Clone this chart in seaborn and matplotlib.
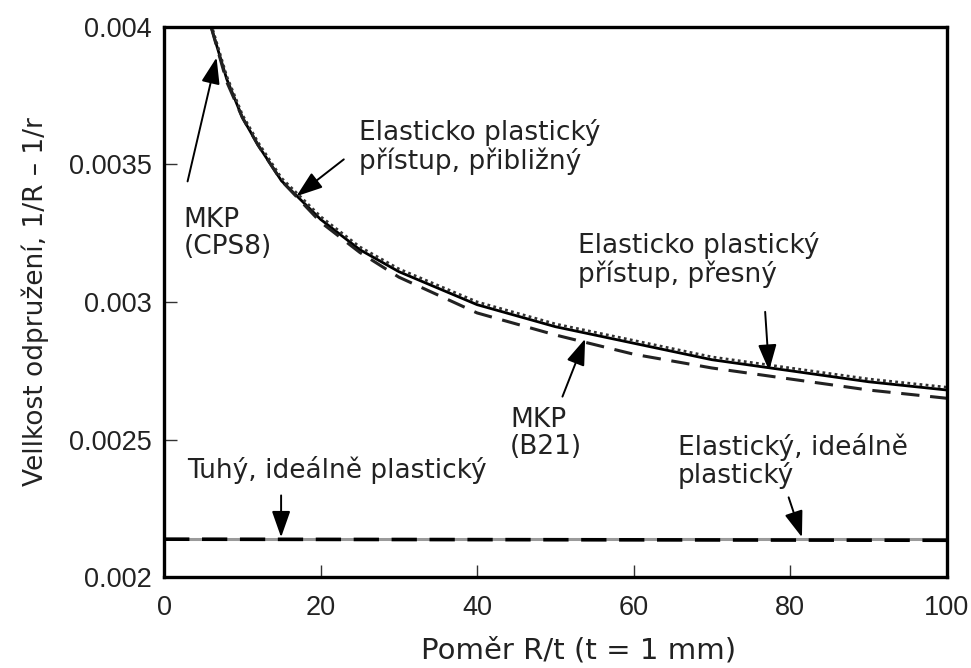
import numpy as np
import pandas as pd
import matplotlib
matplotlib.use("Agg")
import matplotlib.pyplot as plt
import seaborn as sns

# ---- data ----
ratio = [6, 8, 10, 12, 15, 20, 25, 30, 40, 50, 60, 70, 80, 90, 100]
approx_ep = [0.00400, 0.00381, 0.00367, 0.00357, 0.00344, 0.00330, 0.00319, 0.00311,
             0.00299, 0.00291, 0.00285, 0.00279, 0.00275, 0.00271, 0.00268]
fem_cps8 = [0.00401, 0.00382, 0.00368, 0.00358, 0.00345, 0.00331, 0.00320, 0.00312,
            0.00300, 0.00292, 0.00286, 0.00280, 0.00276, 0.00272, 0.00269]
exact_ep = [0.00400, 0.00380, 0.00367, 0.00357, 0.00344, 0.00329, 0.00318, 0.00309,
            0.00296, 0.00288, 0.00281, 0.00276, 0.00272, 0.00268, 0.00265]
flat_x = [0, 100]
rigid_pl = [0.002140, 0.002140]
elastic_pl = [0.002138, 0.002134]

yticks = [0.002, 0.0025, 0.003, 0.0035, 0.004]
ytick_labels = ["0.002", "0.0025", "0.003", "0.0035", "0.004"]
xticks = [0, 20, 40, 60, 80, 100]

sns.set_theme(style="ticks")
plt.rcParams['font.family'] = ['DejaVu Sans']

fig = plt.figure(figsize=(9.71, 6.68), dpi=100)
ax = fig.add_axes([0.169, 0.136, 0.806, 0.824])

sns.lineplot(x=flat_x, y=rigid_pl, ax=ax, color="#9a9a9a", lw=2.2, solid_capstyle="butt")
sns.lineplot(x=flat_x, y=elastic_pl, ax=ax, color="black", lw=2.6, dashes=False)
ax.lines[-1].set_dashes([7, 3.5])
sns.lineplot(x=ratio, y=approx_ep, ax=ax, color="black", lw=2.0)
sns.lineplot(x=ratio, y=fem_cps8, ax=ax, color="#333333", lw=2.0)
ax.lines[-1].set_dashes([1, 1.2])
sns.lineplot(x=ratio, y=exact_ep, ax=ax, color="#222222", lw=2.2)
ax.lines[-1].set_dashes([6, 3.5])

ax.set_xlim(0, 100)
ax.set_ylim(0.002, 0.004)
ax.set_xticks(xticks)
ax.set_xticklabels([str(v) for v in xticks], fontfamily="Liberation Sans", fontsize=19.5, color="#222222")
ax.set_yticks(yticks)
ax.set_yticklabels(ytick_labels, fontfamily="Liberation Sans", fontsize=19.5, color="#222222")
ax.tick_params(axis="both", direction="in", length=9, width=1.0, color="#333333",
               top=False, right=False)
ax.tick_params(axis="y", pad=9)
ax.tick_params(axis="x", pad=13)
for s in ax.spines.values():
    s.set_linewidth(2.4)
    s.set_color("black")
    s.set_visible(True)

ax.set_xlabel("Poměr R/t (t = 1 mm)", fontsize=21, color="#222222", labelpad=12)
ax.xaxis.set_label_coords(0.53, -0.107)
ax.set_ylabel("Vellkost odpružení, 1/R – 1/r", fontsize=19, color="#222222", labelpad=14)

tkw = dict(fontsize=19, color="#222222", va="top", ha="left", linespacing=1.05)
ax.text(2.5, 0.003344, "MKP\n(CPS8)", **tkw)
ax.text(24.9, 0.003663, "Elasticko plastický\npřístup, přibližný", **tkw)
ax.text(52.9, 0.003254, "Elasticko plastický\npřístup, přesný", **tkw)
ax.text(44.2, 0.002620, "MKP\n(B21)", **tkw)
ax.text(3.0, 0.002442, "Tuhý, ideálně plastický", **tkw)
ax.text(65.6, 0.002525, "Elastický, ideálně\nplastický", **tkw)

akw = dict(arrowprops=dict(arrowstyle="-|>,head_length=0.85,head_width=0.3",
                           mutation_scale=19, lw=1.4, color="black",
                           shrinkA=0, shrinkB=0))
ax.annotate("", xy=(6.7, 0.003888), xytext=(3.0, 0.003438), **akw)
ax.annotate("", xy=(16.9, 0.003384), xytext=(22.96, 0.003518), **akw)
ax.annotate("", xy=(77.3, 0.002750), xytext=(76.8, 0.002964), **akw)
ax.annotate("", xy=(53.8, 0.002866), xytext=(50.9, 0.002656), **akw)
ax.annotate("", xy=(14.95, 0.002145), xytext=(14.95, 0.002297), **akw)
ax.annotate("", xy=(81.5, 0.002145), xytext=(79.8, 0.002290), **akw)

fig.savefig("out.png", dpi=100)
